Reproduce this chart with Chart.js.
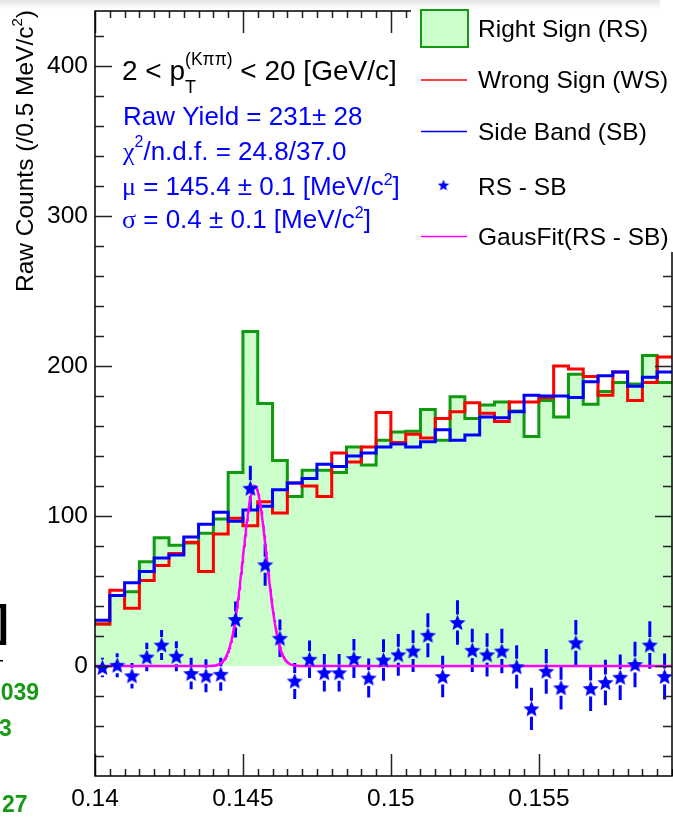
<!DOCTYPE html>
<html>
<head>
<meta charset="utf-8">
<script src="https://cdn.jsdelivr.net/npm/chart.js@4.4.1/dist/chart.umd.min.js"></script>
<style>
  html, body { margin: 0; padding: 0; background: #fff; overflow: hidden; }
  #wrap { position: relative; width: 673px; height: 821px; }
  #shade { position: absolute; left: 0; top: 0; width: 660px; height: 9px;
           background: linear-gradient(to bottom, rgba(0,0,0,0.10), rgba(0,0,0,0)); pointer-events: none; }
</style>
</head>
<body>
<div id="wrap">
  <canvas id="massChart" width="673" height="821"></canvas>
  <div id="shade"></div>
</div>
<script>
// D* - D0 mass difference, 0.5 MeV bins starting at 0.14 GeV
const xLow = 0.14;
const binWidth = 0.0005;

const rightSign = [28, 47, 49.5, 69.5, 85.5, 80.5, 82, 88.5, 98, 129,
  223, 175, 137, 113, 130.5, 130.5, 129, 146, 134, 150.5,
  156, 156.5, 171, 150.5, 179.5, 165, 174, 176, 170, 153,
  177, 166, 194.5, 174.5, 183, 189, 188, 207, 189];
const wrongSign = [28, 50.5, 38.5, 57, 67, 75, 82.5, 63, 88, 98.5,
  93.5, 109.5, 102, 122, 120, 113, 142, 136, 146, 169,
  149, 154.5, 152, 165, 169.5, 175.5, 168.5, 163, 176, 176,
  179, 200, 198, 193, 180.5, 196, 177, 189, 206];
const sideBand = [30.5, 47, 55.5, 63, 72, 74, 86, 94.5, 102.5, 96.5,
  104, 106.5, 117.5, 122, 125, 134.5, 133, 140, 142, 146,
  148, 146, 149.5, 157.5, 150.5, 154, 166, 165.5, 169.5, 180.5,
  180, 180, 179, 189.5, 193.5, 196, 186.5, 192.5, 196];
const rsMinusSb = [-1, 0.5, -6.5, 6, 14, 6.5, -5, -6.5, -5.5, 31,
  118.5, 67.5, 18.5, -10, 4.5, -4.5, -4.5, 5, -8, 4,
  7.5, 10, 20.5, -7, 29, 10.5, 7.5, 10, -0.5, -28.5,
  -3.5, -14.5, 15.5, -15, -11, -7.5, 1, 14, -7];
const rsMinusSbErr = [6.5, 8, 8.5, 9.5, 10, 10, 10.5, 11, 11, 12,
  15, 14, 12.5, 12, 12.5, 12.5, 12.5, 13, 13, 13.8,
  13.9, 13.9, 14.7, 13.8, 14.8, 14.4, 14.4, 14.8, 14.4, 14.1,
  14.9, 14.4, 15.2, 14.9, 15.2, 15.2, 15.2, 15.8, 15.3];

// gaussian fit parameters
const fitMean = 0.1454;
const fitSigma = 0.0004;
const fitPeak = 120;

const xTickValues = [0.14, 0.145, 0.15, 0.155];
const xTickLabels = ['0.14', '0.145', '0.15', '0.155'];
const yTickValues = [0, 100, 200, 300, 400];
const yMin = -73.3;
const yMax = 436.7;

const SANS = '"Liberation Sans", Arial, sans-serif';
const SERIF = '"Liberation Serif", "DejaVu Serif", serif';
const GREEN = '#109a10';
const FILL = '#ccffcc';

const nBins = rightSign.length;
const xHigh = xLow + nBins * binWidth;

const histPoints = vals => vals.map((v, k) => ({ x: xLow + k * binWidth, y: v }))
  .concat([{ x: xHigh, y: vals[vals.length - 1] }]);

const diffPoints = rsMinusSb.map((v, k) => ({ x: xLow + (k + 0.5) * binWidth, y: v }));

const fitPoints = [];
for (let x = xLow; x <= xHigh + 1e-9; x += 0.00002) {
  const d = (x - fitMean) / fitSigma;
  fitPoints.push({ x: x, y: fitPeak * Math.exp(-0.5 * d * d) });
}

const makeStar = (size, color) => {
  const c = document.createElement('canvas');
  c.width = c.height = size;
  const g = c.getContext('2d');
  const r = size / 2;
  g.beginPath();
  for (let i = 0; i < 10; i++) {
    const a = -Math.PI / 2 + i * Math.PI / 5;
    const rr = i % 2 ? r * 0.45 : r;
    g.lineTo(r + rr * Math.cos(a), r + 0.6 + rr * Math.sin(a));
  }
  g.closePath();
  g.fillStyle = color;
  g.fill();
  return c;
};
const starMarker = makeStar(17, '#0000ff');
const starSmall = makeStar(12, '#0000ff');

// text with super/subscripts, parts drawn left to right
const drawRich = (ctx, x, y, parts) => {
  let cx = x;
  parts.forEach(p => {
    ctx.font = p.f;
    ctx.fillText(p.t, cx, y + (p.dy || 0));
    if (!p.stay) cx += ctx.measureText(p.t).width;
  });
  return cx - x;
};
const richWidth = (ctx, parts) => {
  let w = 0;
  parts.forEach(p => { ctx.font = p.f; if (!p.stay) w += ctx.measureText(p.t).width; });
  return w;
};

const errorBars = {
  id: 'errorBars',
  beforeDatasetDraw(chart, args) {
    if (args.index !== 4) return;
    const { ctx, chartArea, scales: { x, y } } = chart;
    ctx.save();
    ctx.beginPath();
    ctx.rect(chartArea.left, chartArea.top, chartArea.width, chartArea.height);
    ctx.clip();
    ctx.strokeStyle = '#0000ff';
    ctx.lineWidth = 3;
    const gap = 8;
    rsMinusSb.forEach((v, k) => {
      const px = x.getPixelForValue(xLow + (k + 0.5) * binWidth);
      const py = y.getPixelForValue(v);
      const top = y.getPixelForValue(v + rsMinusSbErr[k]);
      const bot = y.getPixelForValue(v - rsMinusSbErr[k]);
      ctx.beginPath();
      if (py - gap > top) { ctx.moveTo(px, top); ctx.lineTo(px, py - gap); }
      if (py + gap < bot) { ctx.moveTo(px, py + gap); ctx.lineTo(px, bot); }
      ctx.stroke();
    });
    ctx.restore();
  }
};

const frameAndText = {
  id: 'frameAndText',
  afterDraw(chart) {
    const { ctx, chartArea: a, scales: { x, y } } = chart;
    ctx.save();

    // ticks on all four sides, pointing inwards
    ctx.strokeStyle = '#222';
    ctx.lineWidth = 1.5;
    ctx.beginPath();
    for (let k = 0; k <= nBins; k++) {
      const v = xLow + k * binWidth;
      const px = Math.round(x.getPixelForValue(v)) + 0.5;
      const major = k % 10 === 0;
      const len = major ? 22 : 7;
      ctx.moveTo(px, a.bottom); ctx.lineTo(px, a.bottom - len);
      ctx.moveTo(px, a.top); ctx.lineTo(px, a.top + len);
    }
    for (let v = -60; v <= yMax; v += 20) {
      const py = Math.round(y.getPixelForValue(v)) + 0.5;
      const len = v % 100 === 0 ? 17 : 9;
      ctx.moveTo(a.left, py); ctx.lineTo(a.left + len, py);
      ctx.moveTo(a.right, py); ctx.lineTo(a.right - len, py);
    }
    ctx.stroke();

    ctx.strokeStyle = '#000';
    ctx.lineWidth = 1.5;
    ctx.strokeRect(a.left, a.top, a.right - a.left, a.bottom - a.top);

    // legend
    ctx.fillStyle = '#fff';
    ctx.fillRect(411, 0, 262, 252);
    ctx.fillStyle = FILL;
    ctx.fillRect(421, 10, 47, 37);
    ctx.strokeStyle = GREEN;
    ctx.lineWidth = 2;
    ctx.strokeRect(421, 10, 47, 37);
    ctx.lineWidth = 1.5;
    [['#ff0000', 80], ['#0000ff', 131.5], ['#ff00ff', 236.5]].forEach(([c, ly]) => {
      ctx.strokeStyle = c;
      ctx.beginPath(); ctx.moveTo(421, ly); ctx.lineTo(467, ly); ctx.stroke();
    });
    ctx.drawImage(starSmall, 443.5 - 6, 185 - 6);
    ctx.fillStyle = '#000';
    ctx.textBaseline = 'alphabetic';
    ctx.textAlign = 'left';
    ctx.font = `24.5px ${SANS}`;
    [['Right Sign (RS)', 36.5], ['Wrong Sign (WS)', 87.5], ['Side Band (SB)', 139.5],
     ['RS - SB', 194.5], ['GausFit(RS - SB)', 245]].forEach(([t, ty]) => ctx.fillText(t, 478, ty));

    // kinematic range and fit results
    drawRich(ctx, 122, 80, [
      { t: '2 < p', f: `28px ${SANS}` },
      { t: 'T', f: `18px ${SANS}`, dy: 13, stay: true },
      { t: '(K\u03c0\u03c0)', f: `17.5px ${SANS}`, dy: -15 },
      { t: ' < 20 [GeV/c]', f: `28px ${SANS}` }
    ]);
    ctx.fillStyle = '#0000ff';
    drawRich(ctx, 123, 125, [{ t: 'Raw Yield = 231\u00b1 28', f: `26px ${SANS}` }]);
    drawRich(ctx, 123, 160, [
      { t: '\u03c7', f: `26px ${SERIF}` },
      { t: '2', f: `16px ${SANS}`, dy: -13 },
      { t: '/n.d.f. = 24.8/37.0', f: `26px ${SANS}` }
    ]);
    drawRich(ctx, 122, 195, [
      { t: '\u03bc', f: `26px ${SERIF}` },
      { t: ' = 145.4 \u00b1 0.1 [MeV/c', f: `26px ${SANS}` },
      { t: '2', f: `16px ${SANS}`, dy: -10 },
      { t: ']', f: `26px ${SANS}` }
    ]);
    drawRich(ctx, 122, 228, [
      { t: '\u03c3', f: `26px ${SERIF}` },
      { t: ' = 0.4 \u00b1 0.1 [MeV/c', f: `26px ${SANS}` },
      { t: '2', f: `16px ${SANS}`, dy: -10 },
      { t: ']', f: `26px ${SANS}` }
    ]);

    // y axis title, aligned to the top of the axis
    ctx.fillStyle = '#000';
    const titleParts = [
      { t: 'Raw Counts (/0.5 MeV/c', f: `24.5px ${SANS}` },
      { t: '2', f: `15px ${SANS}`, dy: -11 },
      { t: ')', f: `24.5px ${SANS}` }
    ];
    const tw = richWidth(ctx, titleParts);
    ctx.save();
    ctx.translate(33, 10 + tw);
    ctx.rotate(-Math.PI / 2);
    drawRich(ctx, 0, 0, titleParts);
    ctx.restore();

    // neighbouring pad, cut at the left edge
    ctx.fillStyle = '#000';
    ctx.font = `bold 44px ${SANS}`;
    ctx.fillText(']', -6, 636);
    ctx.fillRect(0, 660, 3, 1.5);
    ctx.fillStyle = '#169a16';
    ctx.font = `bold 23px ${SANS}`;
    ctx.fillText('1039', -12, 700);
    ctx.fillText('3', -1, 736);
    ctx.fillText('27', 2, 812);

    ctx.restore();
  }
};

new Chart(document.getElementById('massChart'), {
  type: 'line',
  data: {
    datasets: [
      {
        label: 'RS - SB',
        data: diffPoints,
        showLine: false,
        pointStyle: starMarker,
        pointRadius: 8,
        order: 0
      },
      {
        label: 'GausFit(RS - SB)',
        data: fitPoints,
        borderColor: '#ff00ff',
        borderWidth: 2.5,
        pointRadius: 0,
        order: 1
      },
      {
        label: 'Side Band (SB)',
        data: histPoints(sideBand),
        borderColor: '#0000ff',
        borderWidth: 3,
        stepped: true,
        pointRadius: 0,
        order: 2
      },
      {
        label: 'Wrong Sign (WS)',
        data: histPoints(wrongSign),
        borderColor: '#ff0000',
        borderWidth: 3,
        stepped: true,
        pointRadius: 0,
        order: 3
      },
      {
        label: 'Right Sign (RS)',
        data: histPoints(rightSign),
        borderColor: GREEN,
        backgroundColor: FILL,
        borderWidth: 3,
        stepped: true,
        fill: 'origin',
        pointRadius: 0,
        order: 4
      }
    ]
  },
  options: {
    responsive: false,
    animation: false,
    layout: { autoPadding: false, padding: { top: 11, right: 1, left: 0, bottom: 0 } },
    plugins: { legend: { display: false }, tooltip: { enabled: false } },
    scales: {
      x: {
        type: 'linear',
        min: xLow,
        max: xHigh,
        grid: { display: false, drawTicks: false },
        border: { display: false },
        afterBuildTicks: scale => { scale.ticks = xTickValues.map(v => ({ value: v })); },
        afterFit: scale => {
          scale.height = 45;
          scale.paddingLeft = 0;
          scale.paddingRight = 0;
        },
        ticks: {
          autoSkip: false,
          maxRotation: 0,
          minRotation: 0,
          padding: 9,
          color: '#000',
          font: { family: SANS, size: 24.5 },
          callback: (v, i) => xTickLabels[i]
        }
      },
      y: {
        min: yMin,
        max: yMax,
        grid: { display: false, drawTicks: false },
        border: { display: false },
        afterBuildTicks: scale => { scale.ticks = yTickValues.map(v => ({ value: v })); },
        afterFit: scale => {
          scale.width = 95;
          scale.paddingTop = 0;
          scale.paddingBottom = 0;
        },
        ticks: {
          padding: 7,
          color: '#000',
          font: { family: SANS, size: 24.5 },
          callback: v => String(v)
        }
      }
    }
  },
  plugins: [errorBars, frameAndText]
});
</script>
</body>
</html>
